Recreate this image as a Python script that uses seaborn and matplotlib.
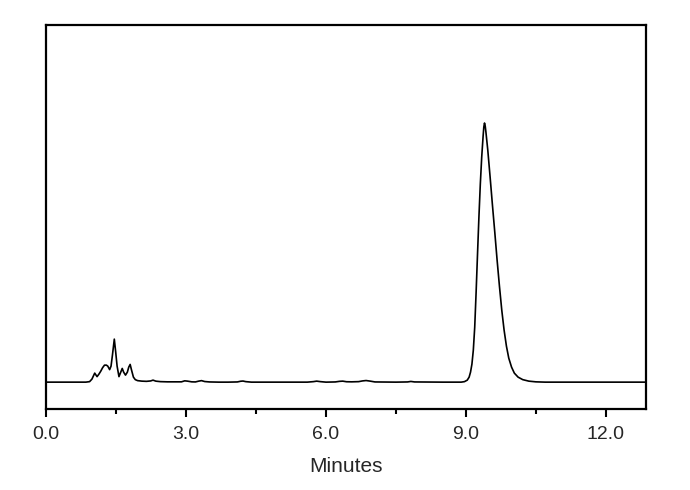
import matplotlib
matplotlib.use("Agg")
import matplotlib.pyplot as plt
from matplotlib.ticker import MultipleLocator, FormatStrFormatter
import seaborn as sns
import pandas as pd

tempo = [0.0, 0.85, 0.93, 0.98, 1.04, 1.09, 1.13, 1.17, 1.21, 1.25, 1.29, 1.32,
         1.36, 1.39, 1.42, 1.46, 1.49, 1.52, 1.56, 1.59, 1.63, 1.66, 1.70, 1.74,
         1.77, 1.80, 1.83, 1.87, 1.91, 1.96, 2.05, 2.15, 2.24, 2.29, 2.35, 2.45,
         2.6, 2.9, 2.97, 3.03, 3.12, 3.2, 3.27, 3.33, 3.40, 3.5, 3.7, 3.9, 4.1,
         4.17, 4.22, 4.28, 4.4, 5.0, 5.6, 5.73, 5.8, 5.88, 6.0, 6.2, 6.29, 6.36,
         6.44, 6.55, 6.7, 6.78, 6.86, 6.95, 7.05, 7.5, 7.75, 7.82, 7.9, 8.5,
         8.90, 8.97, 9.03, 9.07, 9.10, 9.13, 9.16, 9.19, 9.22, 9.25, 9.28, 9.31,
         9.34, 9.37, 9.385, 9.40, 9.415, 9.43, 9.47, 9.52, 9.57, 9.62, 9.67,
         9.72, 9.77, 9.82, 9.87, 9.92, 9.98, 10.04, 10.12, 10.22, 10.35, 10.5,
         10.7, 12.86]
sinal = [0, 0, 0.5, 3, 9, 5.5, 8, 11, 14.5, 17, 17, 16,
         12.5, 16, 27, 43, 30, 16, 5.5, 9, 13.7, 10, 7, 10,
         15, 17.7, 12, 5, 2.5, 1.5, 1, 0.8, 1.2, 2, 1, 0.5,
         0.3, 0.3, 1.3, 1, 0.3, 0.2, 1, 1.5, 0.6, 0.2, 0, 0, 0.2,
         0.9, 1.1, 0.5, 0, 0, 0, 0.5, 1, 0.5, 0, 0.2, 0.8, 1,
         0.4, 0.3, 0.5, 1.2, 1.6, 1, 0.2, 0, 0.2, 0.7, 0.2, 0,
         0, 0.5, 2, 5, 10, 18, 32, 55, 90, 128, 165, 198,
         225, 246, 255, 259, 256, 250, 232, 205, 177, 150, 122,
         96, 72, 52, 36, 24, 15, 9, 5, 2.5, 1, 0.3,
         0, 0]

xticks = [0.0, 3.0, 6.0, 9.0, 12.0]


def exibir_grafico(df):
    sns.set_style("ticks")
    plt.rcParams['font.family'] = ['Liberation Sans', 'DejaVu Sans']

    fig = plt.figure(figsize=(6.9, 4.9), dpi=100)
    ax = fig.add_axes([0.067, 0.165, 0.869, 0.784])

    sns.lineplot(data=df, x='Tempo', y='Sinal', color='black',
                 linewidth=1.2, ax=ax)

    ax.set_xlim(0, 12.86)
    ax.set_ylim(-27, 357)
    ax.set_xticks(xticks)
    ax.xaxis.set_major_formatter(FormatStrFormatter('%.1f'))
    ax.xaxis.set_minor_locator(MultipleLocator(1.5))
    ax.set_yticks([])
    ax.set_ylabel('')
    ax.set_xlabel('Minutes', fontsize=15, labelpad=10)

    ax.tick_params(axis='x', which='major', direction='out', length=6,
                   width=1.5, labelsize=14, pad=6, color='black')
    ax.tick_params(axis='x', which='minor', direction='out', length=3.5,
                   width=1.5, color='black')
    for lado in ['top', 'bottom', 'left', 'right']:
        ax.spines[lado].set_visible(True)
        ax.spines[lado].set_linewidth(1.6)
        ax.spines[lado].set_color('black')

    fig.savefig('out.png', dpi=100, facecolor='white')


def main():
    df = pd.DataFrame({'Tempo': tempo, 'Sinal': sinal})
    exibir_grafico(df)


if __name__ == "__main__":
    main()
